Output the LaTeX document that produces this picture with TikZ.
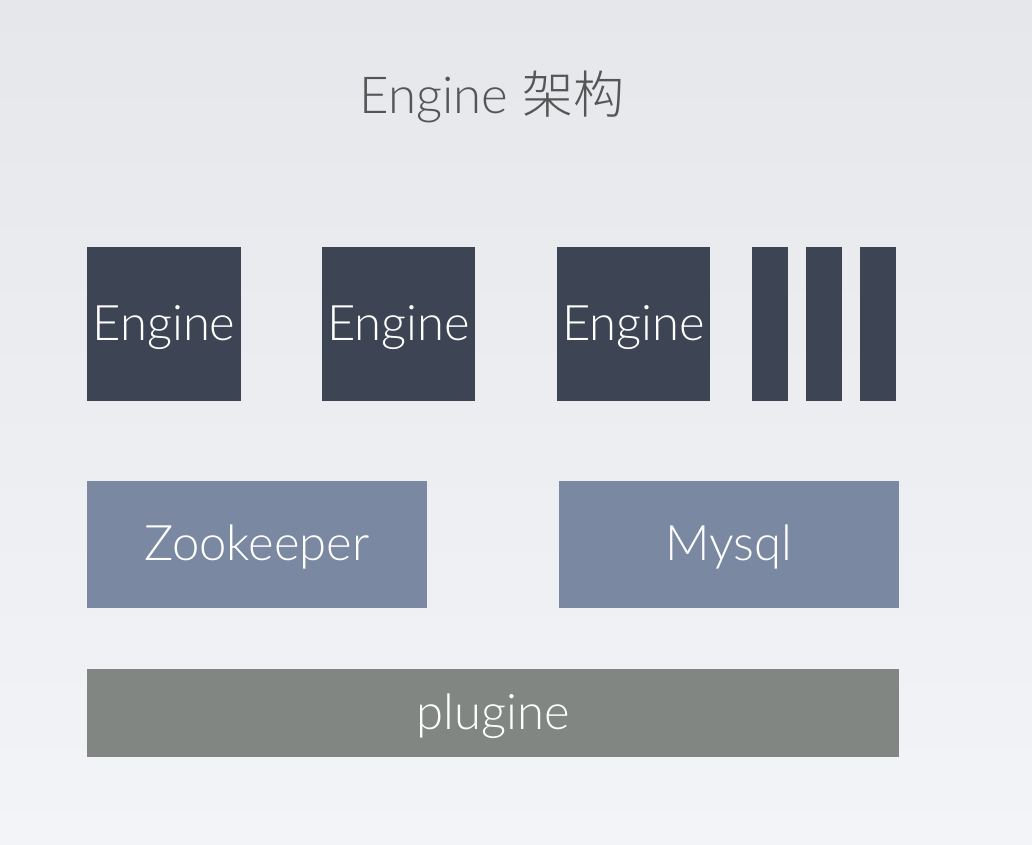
\documentclass[tikz,border=0pt]{standalone}
\usepackage{fontspec}
\setmainfont{Lato Light}[BoldFont=Lato]
\newfontfamily\cjk{Noto Sans CJK SC Light}
\definecolor{engc}{HTML}{3D4454}
\definecolor{midc}{HTML}{7A89A1}
\definecolor{plugc}{HTML}{818683}
\definecolor{bgtop}{HTML}{E5E7EB}
\definecolor{bgbot}{HTML}{F3F4F7}
\definecolor{titlec}{HTML}{555555}
\begin{document}
\begin{tikzpicture}[x=1pt,y=-1pt,
  blk/.style={inner sep=0pt, outer sep=0pt, text=white, font=\fontsize{49}{52}\selectfont},
  lbl/.style={text=white, font=\fontsize{49}{52}\selectfont, inner sep=0pt},
  title/.style={text=titlec, font=\fontsize{51}{54}\selectfont}]
\useasboundingbox (0,0) rectangle (1032,844);
\shade[top color=bgtop, bottom color=bgbot] (0,0) rectangle (1032,844);
\node[title] (t) at (492,97) {Engine {\cjk 架构}};
\node[blk, fill=engc, minimum width=154, minimum height=154] (e1) at (164,324) {};
\node[blk, fill=engc, minimum width=153, minimum height=154] (e2) at (398.5,324) {};
\node[blk, fill=engc, minimum width=153, minimum height=154] (e3) at (633.5,324) {};
\node[blk, fill=engc, minimum width=36, minimum height=154] (b1) at (770,324) {};
\node[blk, fill=engc, minimum width=36, minimum height=154] (b2) at (824,324) {};
\node[blk, fill=engc, minimum width=36, minimum height=154] (b3) at (878,324) {};
\node[blk, fill=midc, minimum width=340, minimum height=127] (zk) at (257,544.5) {};
\node[blk, fill=midc, minimum width=340, minimum height=127] (my) at (729,544.5) {};
\node[blk, fill=plugc, minimum width=812, minimum height=88] (pl) at (493,713) {};
\node[lbl, yshift=-4pt] (l1) at (e1) {Engine};
\node[lbl, yshift=-4pt] (l2) at (e2) {Engine};
\node[lbl, yshift=-4pt] (l3) at (e3) {Engine};
\node[lbl, yshift=-2pt] (lz) at (zk) {Zookeeper};
\node[lbl, yshift=-2pt] (lm) at (my) {Mysql};
\node[lbl, yshift=-3pt] (lp) at (pl) {plugine};
\end{tikzpicture}
\end{document}
